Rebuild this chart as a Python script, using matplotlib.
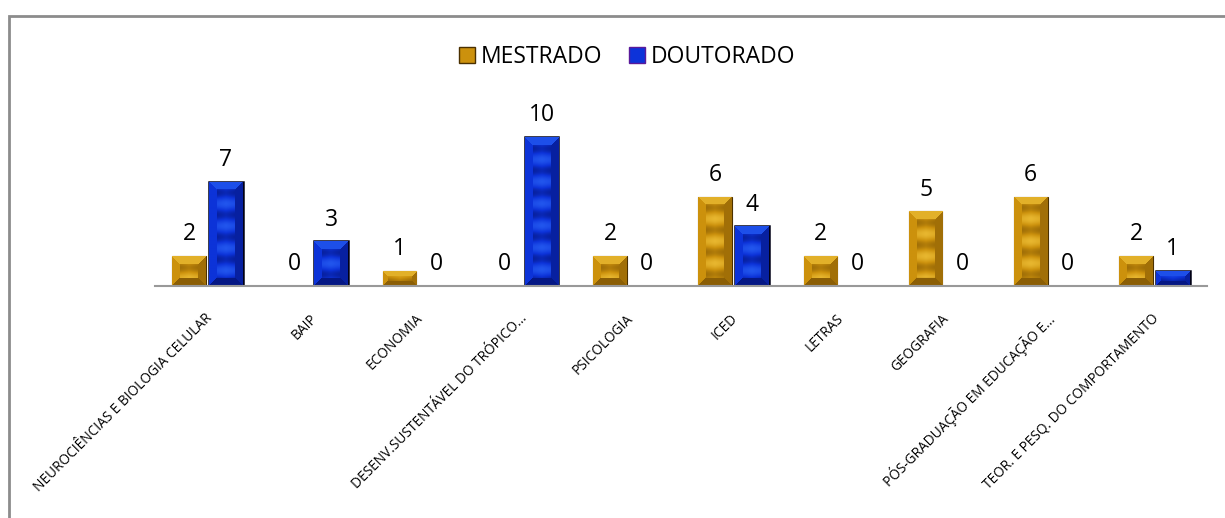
import numpy as np
import matplotlib.pyplot as plt
from matplotlib.patches import Rectangle

categorias = ["NEUROCIÊNCIAS E BIOLOGIA CELULAR", "BAIP", "ECONOMIA",
              "DESENV.SUSTENTÁVEL DO TRÓPICO...", "PSICOLOGIA", "ICED", "LETRAS",
              "GEOGRAFIA", "PÓS-GRADUAÇÃO EM EDUCAÇÃO E...",
              "TEOR. E PESQ. DO COMPORTAMENTO"]
mestrado = [2, 0, 1, 0, 2, 6, 2, 5, 6, 2]
doutorado = [7, 3, 0, 10, 0, 4, 0, 0, 0, 1]

plt.rcParams['font.family'] = ['Open Sans', 'DejaVu Sans']

# cores (media, clara, escura)
ouro = (np.array([0.80, 0.57, 0.05]), np.array([1.0, 0.84, 0.30]), np.array([0.38, 0.24, 0.0]))
azul = (np.array([0.05, 0.20, 0.85]), np.array([0.20, 0.45, 1.0]), np.array([0.0, 0.02, 0.30]))


def textura(cores, wpx, hpx, bev=8):
    mid, light, dark = cores
    wpx = max(int(round(wpx)), 2)
    hpx = max(int(round(hpx)), 2)
    jj, ii = np.meshgrid(np.arange(wpx), np.arange(hpx))
    dx = np.minimum(jj, wpx - 1 - jj)
    dy = np.minimum(ii, hpx - 1 - ii)
    u = jj / max(wpx - 1, 1)
    t = 0.4 * np.cos(2 * np.pi * ii / 22.0) + 0.3 * (1 - np.abs(2 * u - 1)) - 0.15
    b = min(bev, wpx // 3, hpx // 3)
    borda = np.minimum(dx, dy) < b
    topo = borda & (dy <= dx) & (ii < hpx / 2)
    base = borda & (dy <= dx) & (ii >= hpx / 2)
    esq = borda & (dx < dy) & (jj < wpx / 2)
    dire = borda & (dx < dy) & (jj >= wpx / 2)
    t = np.where(topo, 0.45, t)
    t = np.where(base, -0.6, t)
    t = np.where(esq, 0.0, t)
    t = np.where(dire, -0.4, t)
    t = np.clip(t, -1, 1)[..., None]
    img = np.where(t > 0, mid + t * (light - mid), mid + (-t) * (dark - mid))
    return np.clip(img, 0, 1)


fig = plt.figure(figsize=(12.25, 5.18), dpi=100)
ax = fig.add_axes([0.1265, 0.448, 0.8588, 0.345])

x = np.arange(len(categorias))
w = 0.32
b1 = ax.bar(x - w / 2 - 0.015, mestrado, w, color=ouro[0], edgecolor='#4a3000', linewidth=0.8, zorder=2)
b2 = ax.bar(x + w / 2 + 0.015, doutorado, w, color=azul[0], edgecolor='#000015', linewidth=1.8, zorder=2)

ax.set_xlim(-0.5, len(categorias) - 0.5)
ax.set_ylim(0, 12)

px_x = ax.bbox.width / len(categorias)
px_y = ax.bbox.height / 12

for barras, cores in [(b1, ouro), (b2, azul)]:
    for r in barras:
        h = r.get_height()
        if h <= 0:
            continue
        x0 = r.get_x()
        img = textura(cores, r.get_width() * px_x, h * px_y)
        im = ax.imshow(img, extent=(x0, x0 + r.get_width(), 0, h), origin='upper',
                       aspect='auto', zorder=2.5, interpolation='bilinear')
        im.set_clip_path(r)

ax.set_xlim(-0.5, len(categorias) - 0.5)
ax.set_ylim(0, 12)

for barras, vals in [(b1, mestrado), (b2, doutorado)]:
    for r, v in zip(barras, vals):
        ax.annotate(str(v), (r.get_x() + r.get_width() / 2, v), xytext=(0, 7),
                    textcoords='offset points', ha='center', va='bottom', fontsize=16.5)

for s in ['top', 'right', 'left']:
    ax.spines[s].set_visible(False)
ax.spines['bottom'].set_color('#999999')
ax.spines['bottom'].set_linewidth(1.5)
ax.set_yticks([])
ax.set_xticks(x - 0.03)
ax.set_xticklabels(categorias, rotation=45, ha='right', rotation_mode='anchor', fontsize=9.8)
ax.tick_params(axis='x', length=0, pad=18)
ax.patch.set_alpha(0)

# legenda
h1 = Rectangle((0, 0), 1, 1, facecolor=ouro[0], edgecolor='#4a3000')
h2 = Rectangle((0, 0), 1, 1, facecolor=azul[0], edgecolor='#5a1a9a')
fig.legend([h1, h2], ['MESTRADO', 'DOUTORADO'], loc='center', bbox_to_anchor=(0.512, 0.89),
           ncol=2, frameon=False, fontsize=16.5, handlelength=0.7, handleheight=0.7,
           handletextpad=0.25, columnspacing=1.2)

# moldura
fig.patches.append(Rectangle((9 / 1225, -0.1), 1.2, (518 - 16) / 518 + 0.1,
                             transform=fig.transFigure, fill=False,
                             edgecolor='#8c8c8c', linewidth=2))

fig.savefig('out.png', dpi=100)
